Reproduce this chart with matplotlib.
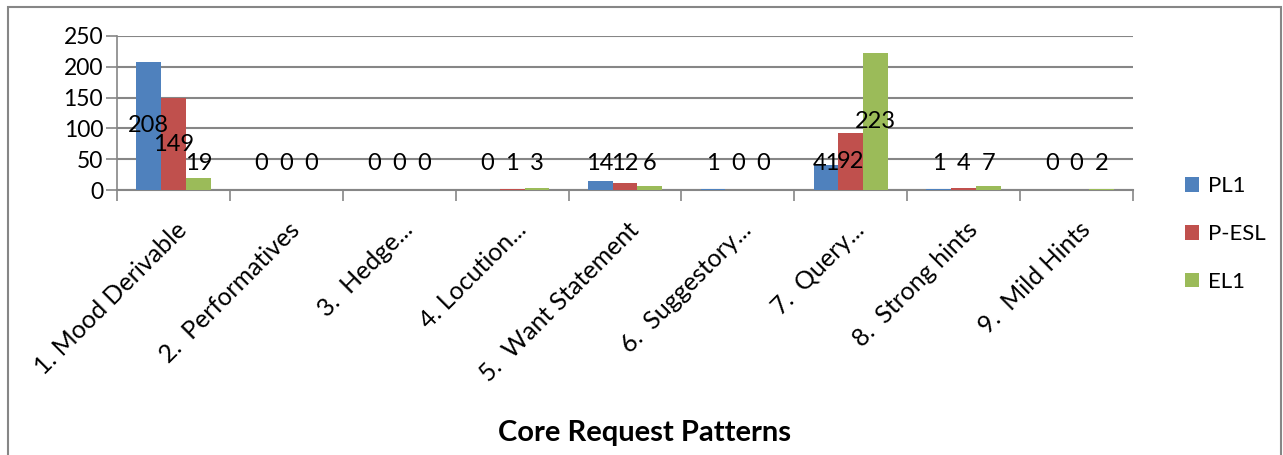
import numpy as np
import matplotlib.pyplot as plt
from matplotlib.patches import Rectangle
import matplotlib.transforms as mtransforms

categories = ["1. Mood Derivable", "2.  Performatives", "3.  Hedge...", "4. Locution...",
              "5.  Want Statement", "6.  Suggestory...", "7.  Query...", "8.  Strong hints",
              "9.  Mild Hints"]
pl1 = [208, 0, 0, 0, 14, 1, 41, 1, 0]
pesl = [149, 0, 0, 1, 12, 0, 92, 4, 0]
el1 = [19, 0, 0, 3, 6, 0, 223, 7, 2]
series = ["PL1", "P-ESL", "EL1"]
colors = ["#4F81BD", "#C0504D", "#9BBB59"]

plt.rcParams['font.family'] = ['Lato', 'DejaVu Sans']

fig = plt.figure(figsize=(12.83, 4.55), dpi=100)
ax = fig.add_axes([117/1283, 1-190/455, (1133-117)/1283, (190-36)/455])

x = np.arange(len(categories))
w = 0.22
for i, (vals, name, c) in enumerate(zip([pl1, pesl, el1], series, colors)):
    pos = x + (i - 1) * w
    ax.bar(pos, vals, w, color=c, label=name, zorder=3)
    for p, v in zip(pos, vals):
        ax.text(p, max(v / 2, 43), str(v), ha='center', va='center', fontsize=17, zorder=4)

ax.set_xlim(-0.5, len(categories) - 0.5)
ax.set_ylim(0, 250)
ax.set_yticks(range(0, 251, 50))
ax.yaxis.grid(True, color='#868686', lw=1.5, zorder=0)
for s in ['top', 'right']:
    ax.spines[s].set_visible(False)
ax.spines['left'].set_color('#868686')
ax.spines['bottom'].set_color('#868686')
ax.spines['left'].set_linewidth(1.2)
ax.spines['bottom'].set_linewidth(1.5)

ax.set_xticks(np.arange(-0.5, len(categories), 1))
ax.set_xticklabels([])
ax.set_xticks(x, minor=True)
ax.set_xticklabels(categories, minor=True, rotation=45, ha='right', va='center',
                   rotation_mode='anchor', fontsize=18)
ax.tick_params(axis='x', which='major', length=8, color='#868686', width=1.2)
ax.tick_params(axis='x', which='minor', length=0, pad=0)
ax.tick_params(axis='y', length=8, color='#868686', width=1.2, labelsize=16.5, pad=2)
offset = mtransforms.ScaledTranslation(10/100, -36/100, fig.dpi_scale_trans)
for lab in ax.xaxis.get_minorticklabels():
    lab.set_transform(lab.get_transform() + offset)

ax.legend(loc='center left', bbox_to_anchor=(1165/1283, 1-234/455), bbox_transform=fig.transFigure,
          frameon=False, fontsize=16, handlelength=0.65, handleheight=0.65, labelspacing=1.25,
          handletextpad=0.4)

fig.text(644/1283, 1-433/455, "Core Request Patterns", ha='center', va='center',
         fontsize=21, fontweight='bold')

fig.patches.append(Rectangle((8/1283, -0.05), (1281-8)/1283, 1.05-7/455,
                             transform=fig.transFigure, fill=False, edgecolor='#868686', lw=1.5))

fig.savefig("out.png", dpi=100)
